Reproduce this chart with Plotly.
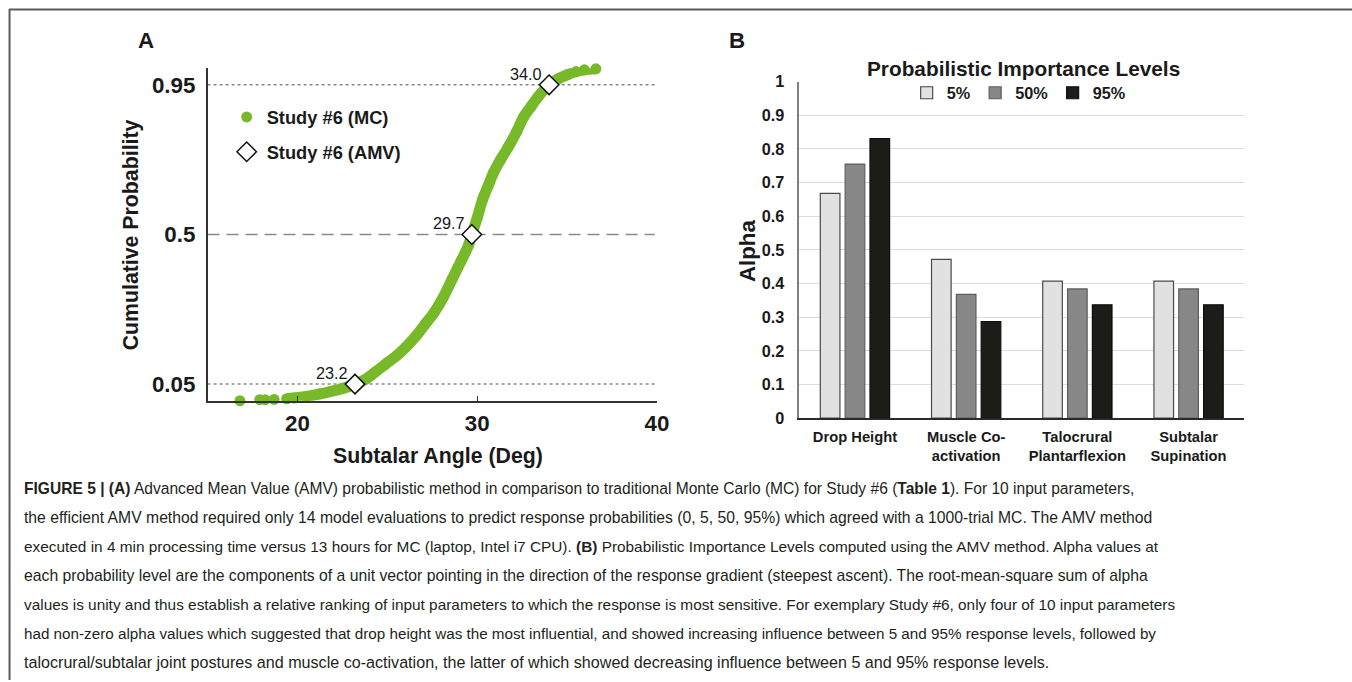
import plotly.graph_objects as go

W, H = 1352, 682          # reference canvas (positions below are read in these pixels)
LW, LH = 1368, 697        # layout size compensating the photographed viewport
FS = 1.015                # font compensation
FONT = "Liberation Sans, Arial, Helvetica, sans-serif"

# ---------------- Panel A data ----------------
mc_angle = [16.8, 17.9, 18.2, 18.7, 19.4, 19.8, 20.5, 21.2, 22.0, 22.6, 23.2, 23.8,
            24.3, 24.9, 25.5, 26.0, 26.6, 27.1, 27.6, 28.1, 28.6, 29.1, 29.5, 29.7,
            30.0, 30.3, 30.6, 30.9, 31.3, 31.75, 32.2, 32.6, 33.0, 33.4, 34.0, 34.5,
            35.0, 35.5, 35.96, 36.6]
mc_prob = [0.0, 0.003, 0.003, 0.004, 0.006, 0.008, 0.013, 0.02, 0.03, 0.038, 0.05, 0.065,
           0.085, 0.11, 0.135, 0.16, 0.195, 0.23, 0.265, 0.31, 0.365, 0.42, 0.465, 0.5,
           0.55, 0.605, 0.645, 0.685, 0.725, 0.765, 0.81, 0.855, 0.885, 0.915, 0.95, 0.968,
           0.98, 0.99, 0.995, 0.998]
amv_angle = [23.2, 29.7, 34.0]
amv_prob = [0.05, 0.5, 0.95]
amv_labels = ["23.2", "29.7", "34.0"]
ref_levels = [0.05, 0.5, 0.95]
ref_ticktext = ["0.05", "0.5", "0.95"]
x_ticks_a = [20, 30, 40]

# ---------------- Panel B data ----------------
categories = ["Drop Height", "Muscle Co-<br>activation", "Talocrural<br>Plantarflexion",
              "Subtalar<br>Supination"]
levels = ["5%", "50%", "95%"]
alpha_5 = [0.668, 0.472, 0.407, 0.407]
alpha_50 = [0.755, 0.368, 0.384, 0.384]
alpha_95 = [0.831, 0.287, 0.337, 0.337]

caption_lines = [
    "<b>FIGURE 5 | (A)</b> Advanced Mean Value (AMV) probabilistic method in comparison to traditional Monte Carlo (MC) for Study #6 (<b>Table 1</b>). For 10 input parameters,",
    "the efficient AMV method required only 14 model evaluations to predict response probabilities (0, 5, 50, 95%) which agreed with a 1000-trial MC. The AMV method",
    "executed in 4 min processing time versus 13 hours for MC (laptop, Intel i7 CPU). <b>(B)</b> Probabilistic Importance Levels computed using the AMV method. Alpha values at",
    "each probability level are the components of a unit vector pointing in the direction of the response gradient (steepest ascent). The root-mean-square sum of alpha",
    "values is unity and thus establish a relative ranking of input parameters to which the response is most sensitive. For exemplary Study #6, only four of 10 input parameters",
    "had non-zero alpha values which suggested that drop height was the most influential, and showed increasing influence between 5 and 95% response levels, followed by",
    "talocrural/subtalar joint postures and muscle co-activation, the latter of which showed decreasing influence between 5 and 95% response levels.",
]
# per-line font size so each line spans about the same width as the (justified) original
caption_sizes = [15.35, 15.5, 15.15, 15.53, 15.15, 15.0, 15.87]


def px_x(p):
    return p / W


def px_y(p):
    return 1 - p / H


def fs(s):
    return round(s * FS, 2)


GREEN = "#78b929"

fig = go.Figure()

# continuous part of the MC curve (thick line)
start = next(i for i, v in enumerate(mc_angle) if v >= 19.4)
fig.add_trace(go.Scatter(
    x=mc_angle[start:], y=mc_prob[start:], mode="lines",
    line=dict(color=GREEN, width=11, shape="spline"),
    xaxis="x", yaxis="y", showlegend=False, hoverinfo="skip", cliponaxis=False))
fig.add_trace(go.Scatter(
    x=mc_angle, y=mc_prob, mode="markers", name="Study #6 (MC)",
    marker=dict(color=GREEN, size=11),
    xaxis="x", yaxis="y", legend="legend", legendgroup="mc", cliponaxis=False))
fig.add_trace(go.Scatter(
    x=amv_angle, y=amv_prob, mode="markers", name="Study #6 (AMV)",
    marker=dict(symbol="diamond", size=15, color="white",
                line=dict(color="#111111", width=1.5)),
    xaxis="x", yaxis="y", legend="legend", legendgroup="amv", cliponaxis=False))

# Panel B bars
bar_styles = [
    ("#e1e1e1", "#4a4a4a"),
    ("#878787", "#5e5e5e"),
    ("#1c1c1a", "#0e0e0e"),
]
for lvl, vals, (fc, lc) in zip(levels, [alpha_5, alpha_50, alpha_95], bar_styles):
    fig.add_trace(go.Bar(
        x=categories, y=vals, name=lvl,
        marker=dict(color=fc, line=dict(color=lc, width=1.2)),
        xaxis="x2", yaxis="y2", legend="legend2"))

shapes = []
for lv in ref_levels:
    shapes.append(dict(
        type="line", xref="x domain", yref="y", x0=0, x1=0.995, y0=lv, y1=lv,
        line=dict(color="#8a8a8a", width=1.5, dash="12px,7px" if lv == 0.5 else "dot"),
        layer="below"))
# figure frame
shapes.append(dict(type="line", xref="paper", yref="paper", x0=px_x(9), x1=1,
                   y0=px_y(8.5), y1=px_y(8.5), line=dict(color="#5a5a5a", width=2)))
shapes.append(dict(type="line", xref="paper", yref="paper", x0=px_x(9.5), x1=px_x(9.5),
                   y0=px_y(8), y1=0, line=dict(color="#5a5a5a", width=2)))

annotations = []


def ann(text, x, y, size, bold=True, angle=0, xanchor="center", yanchor="middle", color="#1a1a1a"):
    annotations.append(dict(
        text=f"<b>{text}</b>" if bold else text, x=px_x(x), y=px_y(y),
        xref="paper", yref="paper", showarrow=False, textangle=angle,
        xanchor=xanchor, yanchor=yanchor,
        font=dict(family=FONT, size=fs(size), color=color)))


# AMV value labels, attached to the AMV points
for ax_, ay_, lab in zip(amv_angle, amv_prob, amv_labels):
    annotations.append(dict(
        text=lab, x=ax_, y=ay_, xref="x", yref="y", showarrow=False,
        xanchor="right", yanchor="bottom", xshift=-5, yshift=0,
        font=dict(family=FONT, size=fs(16), color="#1a1a1a")))

ann("A", 146, 40, 22)
ann("B", 735, 40, 22)
ann("Cumulative Probability", 131, 235, 21, angle=-90)
ann("Subtalar Angle (Deg)", 437, 457, 21)
ann("Probabilistic Importance Levels", 1020, 68, 20.5)
ann("Alpha", 746, 251, 22, angle=-90)

for i, (line, sz) in enumerate(zip(caption_lines, caption_sizes)):
    ann(line, 22, 490 + i * 29.0, sz, bold=False, xanchor="left", color="#231f20")

fig.update_layout(
    width=LW, height=LH, autosize=False,
    margin=dict(l=0, r=0, t=0, b=0),
    paper_bgcolor="white", plot_bgcolor="white",
    font=dict(family=FONT, color="#1a1a1a"),
    barmode="group", bargap=0.33, bargroupgap=0.21,
    xaxis=dict(domain=[px_x(207), px_x(655)], range=[15, 40], anchor="y",
               tickvals=x_ticks_a, showgrid=False, zeroline=False,
               showline=True, linecolor="#333333", linewidth=1.5,
               ticks="inside", ticklen=5, tickcolor="#333333", tickwidth=1.2,
               tickfont=dict(family=FONT, size=fs(22), color="#1a1a1a", weight="bold"),
               ticklabelstandoff=2),
    yaxis=dict(domain=[px_y(401.5), px_y(67.5)], range=[0, 1], anchor="x",
               tickvals=ref_levels, ticktext=ref_ticktext, showgrid=False, zeroline=False,
               showline=True, linecolor="#333333", linewidth=1.5, ticks="",
               tickfont=dict(family=FONT, size=fs(22), color="#1a1a1a", weight="bold"),
               ticklabelstandoff=6),
    xaxis2=dict(domain=[px_x(797), px_x(1240.5)], anchor="y2",
                showgrid=False, zeroline=False, showline=True,
                linecolor="#2a2a2a", linewidth=1.5, ticks="",
                tickfont=dict(family=FONT, size=fs(14.5), color="#1a1a1a", weight="bold"),
                ticklabelstandoff=4),
    yaxis2=dict(domain=[px_y(419), px_y(81)], range=[0, 1], anchor="x2",
                dtick=0.1, tick0=0, showgrid=True, gridcolor="#dcdcdc", gridwidth=1,
                zeroline=False, showline=True, linecolor="#808080", linewidth=1.5,
                ticks="",
                tickfont=dict(family=FONT, size=fs(16), color="#1a1a1a", weight="bold"),
                ticklabelstandoff=10),
    legend=dict(x=px_x(226), y=px_y(98), xanchor="left", yanchor="top",
                bgcolor="rgba(0,0,0,0)", borderwidth=0, tracegroupgap=8,
                font=dict(family=FONT, size=fs(18), color="#1a1a1a", weight="bold")),
    legend2=dict(orientation="h", x=px_x(904), y=px_y(75), xanchor="left", yanchor="top",
                 bgcolor="rgba(0,0,0,0)", borderwidth=0,
                 font=dict(family=FONT, size=fs(16), color="#1a1a1a", weight="bold")),
    shapes=shapes,
    annotations=annotations,
)

post = (
    "document.documentElement.style.margin='0';"
    "document.documentElement.style.overflow='hidden';"
    "document.body.style.margin='0';"
    "document.body.style.overflow='hidden';"
    "var d=document.getElementById('{plot_id}');"
    "d.style.position='absolute';d.style.left='0px';d.style.top='-8px';"
)

fig.write_html("out.html", post_script=post, config={"displayModeBar": False})
